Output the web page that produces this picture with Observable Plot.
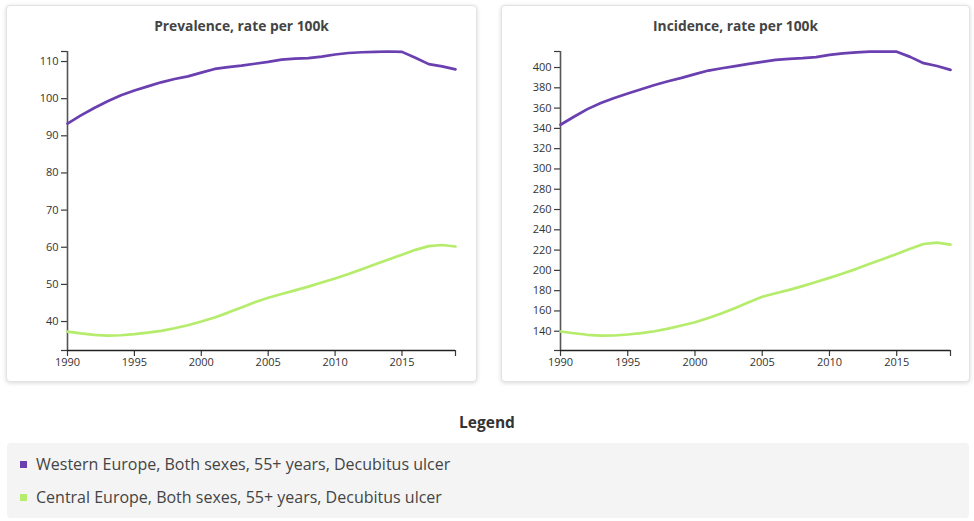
<!DOCTYPE html>
<html>
<head>
<meta charset="utf-8">
<script src="https://cdn.jsdelivr.net/npm/d3@7"></script>
<script src="https://cdn.jsdelivr.net/npm/@observablehq/plot@0.6"></script>
<style>
  body { margin: 0; background: #fff; font-family: "Open Sans", sans-serif; width: 974px; height: 521px; position: relative; overflow: hidden; }
  .card { position: absolute; top: 5px; height: 375px; background: #fff; border: 1px solid #e3e3e3; border-radius: 4px; box-shadow: 0 1px 4px rgba(0,0,0,0.16); }
  .card .title { position: absolute; left: 0; right: 0; top: 10px; text-align: center; font-weight: bold; font-size: 13.8px; color: #444; }
  .card svg { position: absolute; left: 0; top: 0; }
  .legend-title { position: absolute; left: 0; width: 974px; top: 411px; text-align: center; font-weight: bold; font-size: 15.5px; color: #333; }
  .legend-box { position: absolute; left: 7px; top: 443px; width: 962px; height: 75px; background: #f4f4f4; border-radius: 4px; }
  .legend-item { position: absolute; left: 13px; height: 22px; line-height: 22px; font-size: 16px; color: #444; white-space: nowrap; }
  .legend-item .sw { display: inline-block; width: 7px; height: 7px; margin-right: 9px; vertical-align: middle; position: relative; top: -1px; }
</style>
</head>
<body>
<div id="card1" class="card" style="left:6px;width:469px;"><div class="title" id="t1"></div></div>
<div id="card2" class="card" style="left:501px;width:467px;"><div class="title" id="t2"></div></div>
<div class="legend-title">Legend</div>
<div class="legend-box" id="legend"></div>
<script>
const years = [1990,1991,1992,1993,1994,1995,1996,1997,1998,1999,2000,2001,2002,2003,2004,2005,2006,2007,2008,2009,2010,2011,2012,2013,2014,2015,2016,2017,2018,2019];
const seriesNames = ["Western Europe, Both sexes, 55+ years, Decubitus ulcer", "Central Europe, Both sexes, 55+ years, Decubitus ulcer"];
const seriesColors = ["#6a3fb0", "#b5ec6b"];
const chartTitles = ["Prevalence, rate per 100k", "Incidence, rate per 100k"];

const prevalenceWestern = [93.3,95.5,97.5,99.3,100.9,102.2,103.3,104.4,105.3,106.0,107.0,108.0,108.5,108.9,109.4,109.9,110.5,110.8,110.9,111.3,111.9,112.3,112.5,112.6,112.7,112.6,111.0,109.3,108.7,107.9];
const prevalenceCentral = [37.3,36.8,36.4,36.2,36.3,36.6,37.0,37.5,38.2,39.0,40.0,41.1,42.4,43.8,45.2,46.4,47.4,48.4,49.4,50.5,51.6,52.8,54.1,55.4,56.7,58.0,59.3,60.3,60.6,60.2];
const incidenceWestern = [343.6,351.5,359.0,365.0,370.0,374.4,378.5,382.7,386.5,389.8,393.5,397.0,399.3,401.4,403.6,405.6,407.6,408.6,409.2,410.2,412.5,414.0,415.0,415.6,415.8,415.6,410.5,404.3,401.5,397.7];
const incidenceCentral = [139.7,138.0,136.5,135.6,135.8,136.8,138.1,140.0,142.6,145.6,148.9,153.0,157.7,163.0,168.5,174.0,177.5,180.8,184.5,188.5,192.6,197.0,201.5,206.5,211.3,216.2,221.3,226.0,227.3,225.4];

const yearTicks = [1990,1995,2000,2005,2010,2015];
const prevalenceTicks = [40,50,60,70,80,90,100,110];
const incidenceTicks = [140,160,180,200,220,240,260,280,300,320,340,360,380,400];

function rows(a, b) {
  const out = [];
  years.forEach((y, i) => out.push({year: y, value: a[i], series: seriesNames[0]}));
  years.forEach((y, i) => out.push({year: y, value: b[i], series: seriesNames[1]}));
  return out;
}

function chart(data, ticks, domain, width, ml, mr) {
  const axisColor = "#3a3a3a";
  return Plot.plot({
    width, height: 375,
    marginLeft: ml, marginRight: mr, marginTop: 45, marginBottom: 31,
    style: {fontFamily: "'Open Sans', sans-serif", fontSize: "11px", color: "#333", background: "transparent", overflow: "visible"},
    x: {domain: [1990, 2019]},
    y: {domain},
    color: {domain: seriesNames, range: seriesColors},
    marks: [
      Plot.axisX({ticks: yearTicks, tickFormat: d => String(d), tickSize: 6, tickPadding: 2, label: null, stroke: axisColor, strokeWidth: 1.2}),
      Plot.axisX({ticks: [2019], tickFormat: () => "", tickSize: 6, label: null, stroke: axisColor, strokeWidth: 1.2}),
      Plot.axisY({ticks, tickFormat: d => String(d), tickSize: 6, tickPadding: 3, label: null, stroke: axisColor, strokeWidth: 1.2}),
      Plot.axisY({ticks: domain, tickFormat: () => "", tickSize: 6, label: null, stroke: axisColor, strokeWidth: 1.2}),
      Plot.ruleX([1990], {stroke: "#555", strokeWidth: 1.6}),
      Plot.ruleY([domain[0]], {stroke: "#222", strokeWidth: 1.6}),
      Plot.lineY(data, {x: "year", y: "value", stroke: "series", strokeWidth: 2.7})
    ]
  });
}

document.getElementById("t1").textContent = chartTitles[0];
document.getElementById("t2").textContent = chartTitles[1];
document.getElementById("card1").append(chart(rows(prevalenceWestern, prevalenceCentral), prevalenceTicks, [32.2, 112.7], 469, 60, 21));
document.getElementById("card2").append(chart(rows(incidenceWestern, incidenceCentral), incidenceTicks, [121, 415.8], 467, 58, 19));

const legend = document.getElementById("legend");
seriesNames.forEach((name, i) => {
  const item = document.createElement("div");
  item.className = "legend-item";
  item.style.top = (10 + i * 33) + "px";
  const sw = document.createElement("span");
  sw.className = "sw";
  sw.style.background = seriesColors[i];
  item.append(sw, document.createTextNode(name));
  legend.append(item);
});
</script>
</body>
</html>
